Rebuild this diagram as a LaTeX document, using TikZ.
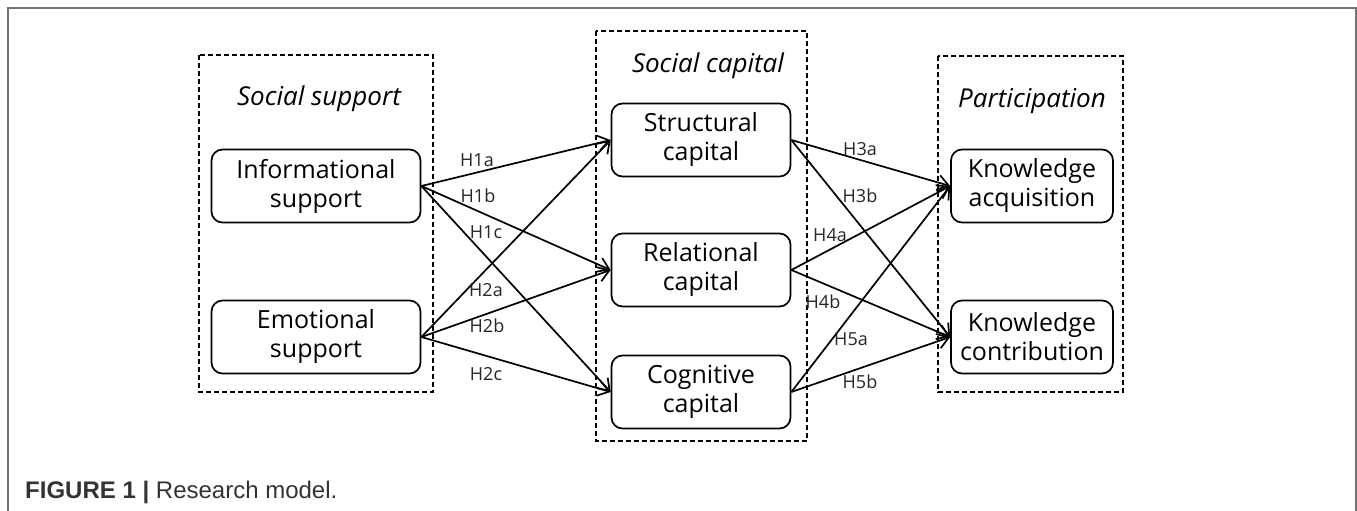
\documentclass[tikz,border=0pt]{standalone}
\usepackage{fontspec}
\setmainfont{Open Sans}
\newfontfamily\capfont{Liberation Sans}
\usetikzlibrary{arrows.meta}

\tikzset{
    factor/.style={draw, line width=1.7pt, rounded corners=11pt, minimum height=73pt,
        align=center, inner sep=0pt, font=\fontsize{25}{29}\selectfont},
    group/.style={draw, line width=1.7pt, dash pattern=on 5pt off 3pt},
    grouptitle/.style={anchor=base, font=\fontsize{26}{29}\selectfont\itshape},
    hyp/.style={text=black!85, font=\fontsize{18}{20}\selectfont},
    link/.style={line width=1.7pt, -{Straight Barb[length=11pt, width=15pt, line width=1.7pt]}},
    captext/.style={anchor=base west, inner sep=0pt, text=black!80, font=\capfont\fontsize{24}{26}\selectfont},
}

\begin{document}
\begin{tikzpicture}[x=1pt, y=-1pt]
    \useasboundingbox (0,0) rectangle (1357,511);
    \draw[black!55, line width=1.5pt] (8,511) -- (8,8) -- (1356,8) -- (1356,511);

    % groups
    \draw[group] (199,55) rectangle (433,392);
    \draw[group] (596,31) rectangle (807,441);
    \draw[group] (938,56) rectangle (1123,392);
    \node[grouptitle] (support) at (319,105) {Social support};
    \node[grouptitle] (capital) at (708,72) {Social capital};
    \node[grouptitle] (particip) at (1032,107) {Participation};

    % factors
    \node[factor, minimum width=209pt] (info) at (316,186) {Informational\\support};
    \node[factor, minimum width=209pt] (emo) at (316,337) {Emotional\\support};
    \node[factor, minimum width=179pt] (struct) at (701,140) {Structural\\capital};
    \node[factor, minimum width=179pt] (rel) at (701,270) {Relational\\capital};
    \node[factor, minimum width=179pt] (cog) at (701,392) {Cognitive\\capital};
    \node[factor, minimum width=162pt] (acq) at (1032,186) {Knowledge\\acquisition};
    \node[factor, minimum width=162pt] (contr) at (1032,337) {Knowledge\\contribution};

    % paths
    \foreach \src in {info, emo}
        \foreach \dst in {struct, rel, cog}
            \draw[link] (\src.east) -- (\dst.west);
    \foreach \src in {struct, rel, cog}
        \foreach \dst in {acq, contr}
            \draw[link] (\src.east) -- (\dst.west);

    % hypotheses
    \node[hyp] (h1a) at (477,160) {H1a};
    \node[hyp] (h1b) at (478,196) {H1b};
    \node[hyp] (h1c) at (486,232) {H1c};
    \node[hyp] (h2a) at (486,290) {H2a};
    \node[hyp] (h2b) at (487,326) {H2b};
    \node[hyp] (h2c) at (486,374) {H2c};
    \node[hyp] (h3a) at (860,149) {H3a};
    \node[hyp] (h3b) at (860,196) {H3b};
    \node[hyp] (h4a) at (830,235) {H4a};
    \node[hyp] (h4b) at (823,302) {H4b};
    \node[hyp] (h5a) at (851,339) {H5a};
    \node[hyp] (h5b) at (860,382) {H5b};

    \node[captext] (caption) at (25,498) {\textbf{FIGURE 1 |} Research model.};
\end{tikzpicture}
\end{document}
